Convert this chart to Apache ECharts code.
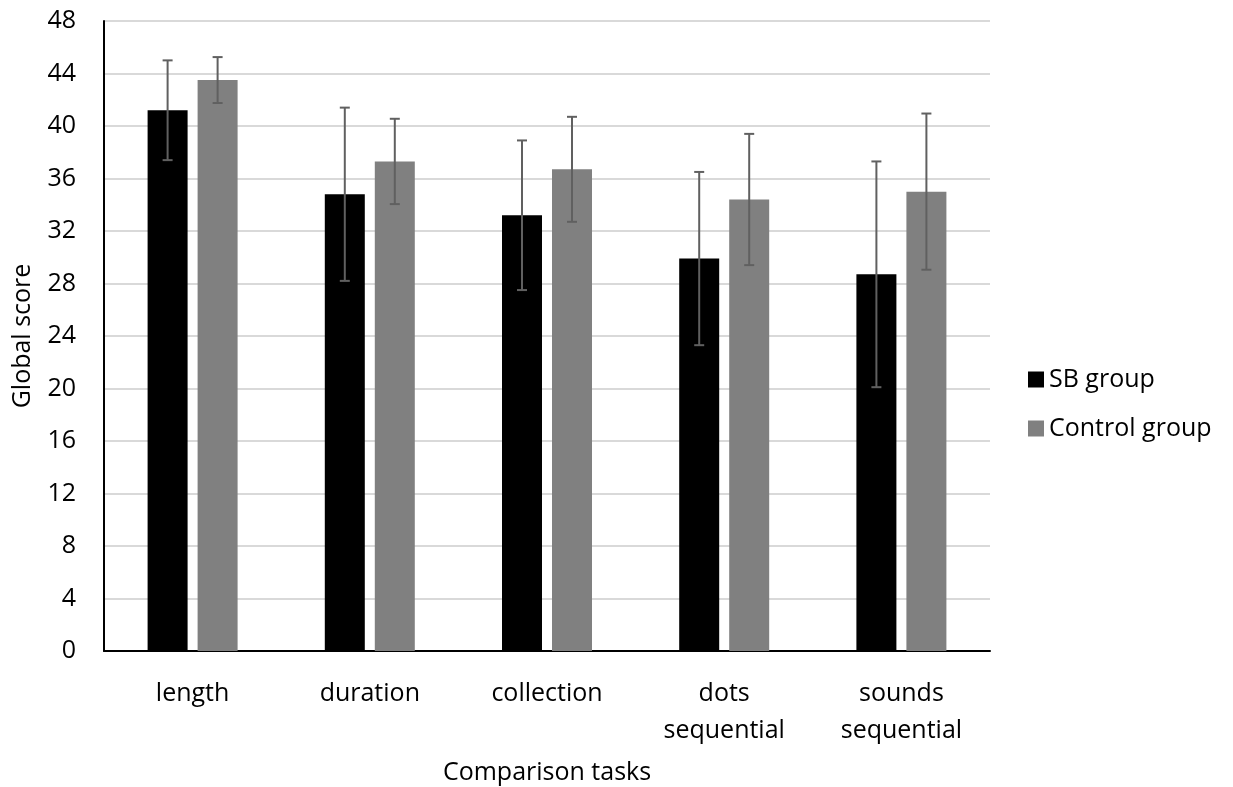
<!DOCTYPE html>
<html>
<head>
<meta charset="utf-8">
<script src="https://cdn.jsdelivr.net/npm/echarts@6/dist/echarts.min.js"></script>
<style>html,body{margin:0;padding:0;background:#fff}#c{width:1233px;height:787px}</style>
</head>
<body>
<div id="c"></div>
<script>
const categories = ['length', 'duration', 'collection', 'dots\nsequential', 'sounds\nsequential'];
const sbValues = [41.2, 34.8, 33.2, 29.9, 28.7];
const sbErrors = [3.8, 6.6, 5.7, 6.6, 8.6];
const controlValues = [43.5, 37.3, 36.7, 34.4, 35.0];
const controlErrors = [1.75, 3.25, 4.0, 5.0, 5.95];
const yTicks = [0, 4, 8, 12, 16, 20, 24, 28, 32, 36, 40, 44, 48];

const FONT = 'Open Sans';
const FS = 25;
const chart = echarts.init(document.getElementById('c'), null, {renderer: 'canvas'});

function errorSeries(values, errors, offsetFrac) {
  return {
    type: 'custom',
    silent: true,
    z: 10,
    data: values.map((v, i) => [i, v - errors[i], v + errors[i]]),
    renderItem: function (params, api) {
      const band = api.size([1, 0])[0];
      const dx = band * offsetFrac;
      const lo = api.coord([api.value(0), api.value(1)]);
      const hi = api.coord([api.value(0), api.value(2)]);
      const x = lo[0] + dx;
      const cap = 5;
      const style = {stroke: '#606060', lineWidth: 2};
      return {
        type: 'group',
        children: [
          {type: 'line', shape: {x1: x, y1: lo[1], x2: x, y2: hi[1]}, style: style},
          {type: 'line', shape: {x1: x - cap, y1: lo[1], x2: x + cap, y2: lo[1]}, style: style},
          {type: 'line', shape: {x1: x - cap, y1: hi[1], x2: x + cap, y2: hi[1]}, style: style}
        ]
      };
    }
  };
}

chart.setOption({
  animation: false,
  backgroundColor: '#ffffff',
  textStyle: {fontFamily: FONT},
  grid: {left: 104, right: 243, top: 21, bottom: 136, containLabel: false, outerBoundsMode: 'none'},
  legend: {
    orient: 'vertical',
    left: 1023,
    top: 362,
    itemWidth: 16,
    itemHeight: 16,
    itemGap: 24,
    icon: 'rect',
    textStyle: {fontFamily: FONT, fontSize: FS, color: '#000', padding: [0, 0, 0, 0]},
    data: ['SB group', 'Control group']
  },
  xAxis: {
    type: 'category',
    data: categories,
    name: 'Comparison tasks',
    nameLocation: 'middle',
    nameGap: 109,
    nameTextStyle: {fontFamily: FONT, fontSize: FS, color: '#000'},
    axisLine: {lineStyle: {color: '#000', width: 2}},
    axisTick: {show: false},
    axisLabel: {fontFamily: FONT, fontSize: FS, color: '#000', margin: 24, lineHeight: 37, interval: 0}
  },
  yAxis: {
    type: 'value',
    min: 0,
    max: 48,
    interval: 4,
    name: 'Global score',
    nameLocation: 'middle',
    nameRotate: 90,
    nameGap: 69,
    nameTextStyle: {fontFamily: FONT, fontSize: FS, color: '#000'},
    axisLine: {show: true, lineStyle: {color: '#000', width: 2}},
    axisTick: {show: false},
    axisLabel: {
      fontFamily: FONT, fontSize: FS, color: '#000', margin: 28,
      formatter: v => (yTicks.indexOf(v) >= 0 ? String(v) : '')
    },
    splitLine: {lineStyle: {color: '#d9d9d9', width: 2}}
  },
  series: [
    {
      name: 'SB group', type: 'bar', data: sbValues,
      barWidth: 40, barGap: '25%',
      itemStyle: {color: '#000000'}
    },
    {
      name: 'Control group', type: 'bar', data: controlValues,
      barWidth: 40, barGap: '25%',
      itemStyle: {color: '#808080'}
    },
    errorSeries(sbValues, sbErrors, -25 / 177.2),
    errorSeries(controlValues, controlErrors, 25 / 177.2)
  ]
});
</script>
</body>
</html>
